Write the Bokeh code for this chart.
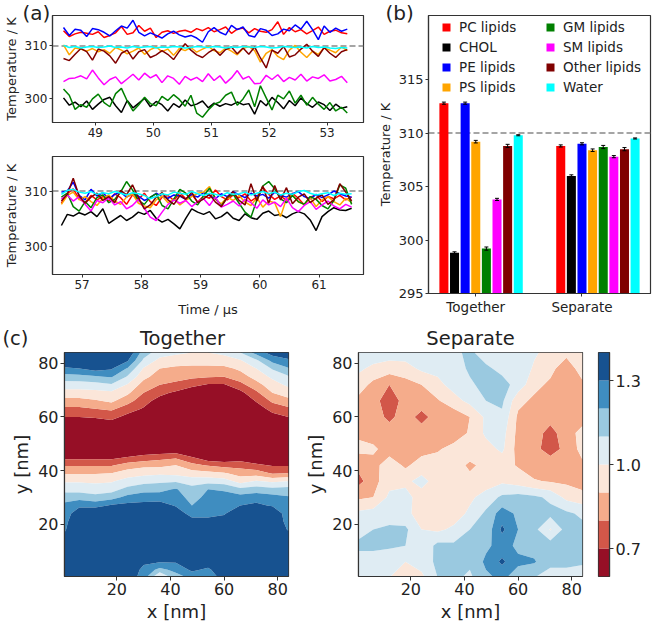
import numpy as np
from bokeh.plotting import figure
from bokeh.layouts import column, row
from bokeh.models import (Range1d, Span, Legend, LegendItem, FixedTicker,
                          Whisker, ColumnDataSource, TeeHead, PrintfTickFormatter)
from bokeh.embed import file_html
from bokeh.resources import INLINE

FONT = "DejaVu Sans"

# ---------------- data ----------------
series_names = ["PC lipids", "CHOL", "PE lipids", "PS lipids",
                "GM lipids", "SM lipids", "Other lipids", "Water"]
series_colors = ["#ff0000", "#000000", "#0000ff", "#ffa500",
                 "#008000", "#ff00ff", "#800000", "#00ffff"]

time_top = [48.45, 48.55, 48.65, 48.75, 48.85, 48.95, 49.05, 49.15, 49.25, 49.35,
            49.45, 49.55, 49.65, 49.75, 49.85, 49.95, 50.05, 50.15, 50.25, 50.35,
            50.45, 50.55, 50.65, 50.75, 50.85, 50.95, 51.05, 51.15, 51.25, 51.35,
            51.45, 51.55, 51.65, 51.75, 51.85, 51.95, 52.05, 52.15, 52.25, 52.35,
            52.45, 52.55, 52.65, 52.75, 52.85, 52.95, 53.05, 53.15, 53.25, 53.35]
time_bottom = [56.65, 56.75, 56.85, 56.95, 57.05, 57.15, 57.25, 57.35, 57.45, 57.55,
               57.65, 57.75, 57.85, 57.95, 58.05, 58.15, 58.25, 58.35, 58.45, 58.55,
               58.65, 58.75, 58.85, 58.95, 59.05, 59.15, 59.25, 59.35, 59.45, 59.55,
               59.65, 59.75, 59.85, 59.95, 60.05, 60.15, 60.25, 60.35, 60.45, 60.55,
               60.65, 60.75, 60.85, 60.95, 61.05, 61.15, 61.25, 61.35, 61.45, 61.55]

pc_top = [312.9, 311.8, 312.3, 312.6, 312.4, 312.2, 312.7, 311.6, 312.0, 312.5,
          313.7, 312.2, 312.5, 313.9, 312.8, 313.4, 311.6, 312.6, 312.9, 312.4,
          312.8, 313.0, 312.6, 313.3, 312.9, 313.5, 312.7, 313.1, 313.6, 312.4,
          313.2, 313.4, 312.5, 313.3, 312.8, 312.6, 313.1, 314.6, 312.2, 313.5,
          312.7, 313.1, 312.3, 312.9, 313.6, 312.2, 312.8, 313.0, 312.5, 312.3]
chol_top = [300.1, 298.7, 299.3, 298.4, 299.5, 297.9, 298.9, 299.8, 300.2, 298.6,
            297.3, 299.6, 298.2, 299.1, 300.0, 298.4, 299.4, 298.8, 297.6, 299.0,
            298.3, 299.7, 298.6, 298.9, 299.5, 298.2, 299.1, 298.5, 299.0, 298.7,
            299.3, 298.8, 299.0, 297.0, 299.6, 298.6, 300.2, 299.2, 298.0, 299.6,
            298.6, 300.1, 299.0, 298.3, 299.3, 298.8, 297.7, 298.9, 298.1, 298.4]
pe_top = [313.5, 312.0, 313.2, 313.0, 311.8, 313.3, 313.1, 312.6, 311.9, 312.9,
          313.8, 313.4, 314.9, 312.6, 311.9, 312.5, 312.0, 311.5, 312.3, 312.8,
          312.1, 311.7, 312.0, 311.5, 310.7, 312.7, 313.5, 312.6, 312.1, 313.9,
          313.1, 313.6, 312.0, 311.7, 313.3, 313.0, 312.0, 312.3, 313.2, 312.9,
          314.0, 313.2, 314.7, 313.1, 311.2, 313.8, 312.6, 313.4, 312.8, 313.2]
ps_top = [310.2, 308.3, 309.6, 309.4, 309.0, 309.5, 308.9, 309.3, 308.6, 309.7,
          309.2, 308.5, 309.0, 309.6, 308.4, 309.3, 309.8, 308.9, 309.4, 308.2,
          309.5, 309.1, 309.7, 308.8, 309.4, 309.9, 309.1, 308.7, 309.6, 309.0,
          308.3, 309.5, 309.9, 309.1, 306.9, 308.6, 309.3, 308.0, 307.4, 309.2,
          310.1, 308.8, 307.8, 309.0, 308.4, 309.6, 309.2, 308.7, 309.8, 309.1]
gm_top = [301.8, 300.6, 297.9, 298.8, 298.3, 299.9, 300.8, 299.2, 298.4, 300.9,
          301.9, 299.5, 297.6, 298.8, 300.2, 299.0, 298.6, 300.4, 299.6, 300.7,
          299.8, 298.5, 300.6, 297.2, 296.4, 297.8, 298.9, 299.3, 300.6, 301.2,
          298.7, 299.9, 301.6, 298.4, 302.4, 300.1, 297.8, 300.6, 299.9, 301.4,
          299.1, 300.6, 298.7, 300.2, 298.9, 297.9, 299.2, 297.6, 298.3, 297.2]
sm_top = [303.2, 303.8, 303.9, 304.3, 303.7, 305.4, 303.9, 302.6, 303.6, 304.1,
          302.8, 303.7, 304.6, 303.5, 304.8, 303.9, 304.5, 303.0, 304.3, 303.8,
          302.7, 304.2, 303.5, 304.0, 303.2, 304.7, 303.4, 304.3, 302.9, 303.9,
          305.3, 303.7, 304.2, 302.8, 302.9, 304.4, 303.6, 304.5, 303.2, 304.0,
          303.5, 304.6, 303.3, 304.1, 303.8, 304.5, 303.3, 303.6, 304.2, 303.0]
other_top = [307.6, 307.2, 308.4, 309.5, 308.9, 307.3, 309.4, 309.0, 308.1, 306.7,
             308.6, 309.2, 307.5, 308.9, 309.3, 307.8, 308.3, 309.1, 308.4, 307.4,
             309.0, 310.4, 309.2, 308.3, 307.8, 308.7, 309.4, 308.2, 309.3, 309.8,
             308.5, 309.6, 308.4, 309.8, 307.7, 305.8, 309.2, 308.6, 309.9, 307.9,
             308.3, 309.4, 310.3, 309.0, 308.0, 309.7, 308.6, 307.8, 308.9, 309.3]
water_top = [310.1, 309.7, 309.9, 309.6, 309.8, 309.9, 309.7, 309.8, 310.0, 309.7,
             309.8, 309.6, 309.9, 309.7, 309.8, 309.9, 309.6, 309.8, 309.7, 309.9,
             309.8, 309.6, 309.7, 309.9, 309.8, 309.7, 309.9, 309.8, 309.6, 309.8,
             309.7, 309.9, 309.8, 309.7, 309.9, 309.8, 309.6, 309.7, 309.9, 309.8,
             309.7, 309.8, 309.6, 309.9, 309.7, 309.8, 309.6, 309.5, 309.7, 309.6]

pc_bottom = [307.8, 309.5, 310.4, 308.6, 307.9, 309.2, 308.4, 309.0, 308.2, 309.5,
             308.8, 307.6, 309.3, 308.5, 309.6, 308.1, 307.4, 308.9, 309.2, 308.3,
             309.7, 308.6, 309.4, 308.0, 309.1, 308.7, 310.2, 309.0, 308.4, 309.3,
             308.8, 309.5, 308.2, 308.9, 310.7, 309.4, 308.5, 309.1, 308.3, 309.6,
             308.7, 307.5, 308.9, 309.3, 308.1, 309.0, 308.6, 309.2, 308.4, 308.9]
chol_bottom = [303.8, 305.8, 305.5, 306.1, 305.7, 306.3, 305.4, 306.8, 304.2, 304.9,
               305.6, 304.7, 305.3, 306.2, 305.8, 306.5, 305.1, 304.4, 304.9, 304.1,
               303.2, 305.1, 306.8, 306.2, 305.8, 306.3, 305.0, 305.4, 306.2, 305.1,
               304.7, 305.9, 305.2, 304.9, 306.0, 306.4, 305.6, 305.8, 305.2, 305.9,
               306.3, 305.9, 304.8, 302.9, 305.4, 306.3, 307.0, 306.6, 306.5, 306.9]
pe_bottom = [309.8, 310.0, 311.6, 309.2, 308.4, 310.3, 309.1, 309.7, 308.6, 309.4,
             309.8, 308.9, 309.5, 309.1, 308.3, 308.8, 309.6, 309.0, 308.7, 309.3,
             309.1, 308.5, 309.4, 308.9, 309.7, 309.2, 308.6, 309.5, 309.0, 309.9,
             309.3, 308.8, 309.6, 309.1, 309.4, 308.7, 309.8, 309.2, 308.9, 309.5,
             309.9, 309.0, 308.6, 309.4, 308.8, 309.3, 310.0, 309.5, 309.1, 308.9]
ps_bottom = [307.6, 309.2, 309.8, 308.4, 309.0, 308.1, 307.4, 308.7, 309.3, 308.2,
             307.6, 308.9, 309.5, 307.8, 307.3, 307.0, 308.4, 309.1, 307.9, 308.6,
             307.5, 308.3, 309.0, 309.6, 309.8, 310.8, 308.5, 307.7, 308.9, 308.3,
             309.2, 308.0, 307.4, 308.8, 307.1, 308.2, 307.9, 305.4, 308.6, 309.3,
             308.0, 307.6, 308.8, 307.2, 308.4, 309.0, 308.1, 307.5, 308.7, 307.9]
gm_bottom = [308.9, 309.6, 307.2, 306.4, 308.1, 307.0, 308.8, 309.3, 307.9, 308.5,
             309.8, 311.7, 310.2, 308.3, 307.6, 308.9, 309.5, 307.4, 306.8, 308.6,
             310.3, 309.6, 308.2, 307.5, 309.1, 310.5, 308.7, 307.3, 308.9, 309.4,
             307.8, 306.2, 305.3, 308.4, 310.9, 311.7, 310.4, 308.6, 307.9, 309.2,
             308.1, 307.6, 309.0, 308.5, 307.4, 306.8, 308.3, 311.1, 310.5, 307.6]
sm_bottom = [308.6, 309.3, 308.2, 309.0, 307.6, 306.4, 308.3, 307.9, 308.8, 307.5,
             308.1, 306.8, 307.4, 308.5, 306.9, 305.3, 304.7, 306.2, 307.6, 308.4,
             307.8, 308.3, 307.2, 308.1, 308.6, 307.4, 308.9, 307.1, 307.6, 308.2,
             307.3, 308.5, 307.9, 306.9, 308.4, 307.5, 308.0, 307.2, 308.7, 307.0,
             306.3, 307.4, 308.1, 306.7, 307.5, 308.2, 307.3, 306.8, 307.6, 307.1]
other_bottom = [308.2, 309.4, 312.3, 309.1, 307.8, 308.9, 309.6, 308.3, 309.0, 307.9,
                310.1, 309.3, 311.1, 308.8, 306.8, 307.5, 308.9, 309.7, 308.4, 307.6,
                309.2, 308.5, 309.8, 307.9, 308.6, 309.4, 308.0, 307.2, 308.8, 309.9,
                308.3, 307.5, 311.3, 308.2, 310.9, 307.8, 311.0, 308.4, 310.6, 307.7,
                308.9, 309.5, 307.9, 308.7, 309.3, 307.6, 308.4, 311.3, 309.8, 308.2]
water_bottom = [309.4, 310.1, 310.3, 309.8, 309.6, 309.9, 309.4, 309.7, 309.5, 309.9,
                309.6, 309.3, 309.7, 309.5, 309.2, 308.6, 309.0, 309.5, 309.3, 309.8,
                309.6, 309.4, 309.9, 309.5, 309.2, 309.6, 309.4, 309.1, 309.7, 309.4,
                309.5, 309.8, 309.3, 309.6, 309.9, 309.5, 309.8, 309.3, 309.6, 309.4,
                309.9, 310.1, 309.6, 309.3, 309.5, 309.7, 309.2, 309.6, 309.4, 309.5]

series_top = [pc_top, chol_top, pe_top, ps_top, gm_top, sm_top, other_top, water_top]
series_bottom = [pc_bottom, chol_bottom, pe_bottom, ps_bottom, gm_bottom, sm_bottom,
                 other_bottom, water_bottom]

group_labels = ["Together", "Separate"]
bar_together = [312.8, 298.8, 312.8, 309.2, 299.2, 303.8, 308.8, 309.8]
err_together = [0.10, 0.10, 0.10, 0.12, 0.15, 0.10, 0.15, 0.05]
bar_separate = [308.8, 306.0, 309.0, 308.4, 308.7, 307.8, 308.5, 309.5]
err_separate = [0.10, 0.10, 0.10, 0.12, 0.15, 0.10, 0.15, 0.05]

ref_temp = 310.0

# map grids (nm)
map_x = [0, 6, 12, 18, 24, 30, 36, 42, 48, 54, 60, 66, 72, 78, 84]
together_y = [0, 3, 6, 9, 12, 15, 18, 21, 24, 27, 30, 33, 36, 39, 42, 45, 48, 51, 54,
              57, 60, 63, 66, 69, 72, 75, 78, 81, 84]
# each column: values at x = map_x[i], from y = 84 down to y = 0 (step 3)
together_cols = [
    [1.39, 1.39, 1.28, 1.16, 1.05, 0.96, 0.87, 0.78, 0.70, 0.62, 0.61, 0.61, 0.61, 0.67, 0.79, 0.89, 0.99, 1.06, 1.16, 1.22, 1.24, 1.26, 1.28, 1.31, 1.35, 1.39, 1.39, 1.39, 1.39],
    [1.39, 1.39, 1.30, 1.17, 1.05, 0.96, 0.87, 0.78, 0.70, 0.62, 0.61, 0.61, 0.61, 0.67, 0.79, 0.89, 0.99, 1.06, 1.16, 1.28, 1.36, 1.39, 1.39, 1.39, 1.39, 1.39, 1.39, 1.39, 1.39],
    [1.39, 1.39, 1.34, 1.19, 1.06, 0.97, 0.89, 0.80, 0.71, 0.63, 0.61, 0.61, 0.61, 0.67, 0.79, 0.89, 0.98, 1.05, 1.13, 1.27, 1.38, 1.39, 1.39, 1.39, 1.39, 1.39, 1.39, 1.39, 1.39],
    [1.39, 1.39, 1.31, 1.21, 1.09, 0.98, 0.92, 0.82, 0.73, 0.65, 0.61, 0.61, 0.61, 0.67, 0.79, 0.90, 0.99, 1.06, 1.16, 1.31, 1.39, 1.39, 1.39, 1.39, 1.39, 1.39, 1.39, 1.39, 1.39],
    [1.39, 1.31, 1.19, 1.09, 0.99, 0.92, 0.84, 0.75, 0.67, 0.62, 0.61, 0.61, 0.61, 0.70, 0.84, 0.95, 1.04, 1.13, 1.23, 1.33, 1.39, 1.39, 1.39, 1.39, 1.39, 1.39, 1.39, 1.39, 1.38],
    [1.15, 1.08, 0.99, 0.93, 0.86, 0.80, 0.74, 0.69, 0.64, 0.61, 0.61, 0.61, 0.61, 0.73, 0.87, 0.97, 1.07, 1.16, 1.26, 1.33, 1.39, 1.39, 1.39, 1.39, 1.39, 1.39, 1.32, 1.27, 1.24],
    [1.05, 0.97, 0.90, 0.85, 0.80, 0.73, 0.66, 0.62, 0.61, 0.61, 0.61, 0.61, 0.61, 0.76, 0.87, 0.98, 1.08, 1.17, 1.25, 1.35, 1.39, 1.39, 1.39, 1.39, 1.39, 1.39, 1.31, 1.17, 0.95],
    [1.02, 0.95, 0.88, 0.83, 0.78, 0.68, 0.61, 0.61, 0.61, 0.61, 0.61, 0.61, 0.61, 0.78, 0.90, 0.97, 1.09, 1.21, 1.25, 1.29, 1.36, 1.39, 1.39, 1.39, 1.39, 1.39, 1.31, 1.23, 1.15],
    [1.00, 0.95, 0.87, 0.82, 0.73, 0.63, 0.61, 0.61, 0.61, 0.61, 0.61, 0.61, 0.61, 0.70, 0.83, 0.94, 1.06, 1.13, 1.16, 1.20, 1.26, 1.34, 1.39, 1.39, 1.39, 1.39, 1.39, 1.32, 1.22],
    [1.00, 0.95, 0.87, 0.81, 0.69, 0.61, 0.61, 0.61, 0.61, 0.61, 0.61, 0.61, 0.61, 0.62, 0.79, 0.93, 1.06, 1.20, 1.23, 1.25, 1.28, 1.32, 1.39, 1.39, 1.39, 1.39, 1.36, 1.28, 1.25],
    [1.02, 0.96, 0.87, 0.80, 0.69, 0.61, 0.61, 0.61, 0.61, 0.61, 0.61, 0.61, 0.61, 0.61, 0.76, 0.91, 1.05, 1.19, 1.23, 1.25, 1.29, 1.34, 1.39, 1.39, 1.39, 1.39, 1.39, 1.38, 1.33],
    [1.10, 0.99, 0.92, 0.85, 0.77, 0.67, 0.61, 0.61, 0.61, 0.61, 0.61, 0.61, 0.61, 0.64, 0.76, 0.86, 0.96, 1.13, 1.24, 1.30, 1.38, 1.39, 1.39, 1.39, 1.39, 1.39, 1.39, 1.39, 1.39],
    [1.24, 1.08, 1.00, 0.94, 0.86, 0.78, 0.71, 0.64, 0.61, 0.61, 0.61, 0.61, 0.61, 0.61, 0.72, 0.85, 1.01, 1.15, 1.26, 1.32, 1.39, 1.39, 1.39, 1.39, 1.39, 1.39, 1.39, 1.39, 1.39],
    [1.35, 1.23, 1.11, 1.02, 0.96, 0.90, 0.82, 0.74, 0.66, 0.61, 0.61, 0.61, 0.61, 0.61, 0.69, 0.79, 0.98, 1.13, 1.24, 1.29, 1.39, 1.39, 1.39, 1.39, 1.39, 1.39, 1.39, 1.39, 1.39],
    [1.39, 1.28, 1.19, 1.09, 1.02, 0.95, 0.87, 0.78, 0.70, 0.62, 0.61, 0.61, 0.61, 0.61, 0.69, 0.80, 1.00, 1.14, 1.21, 1.22, 1.24, 1.26, 1.29, 1.35, 1.39, 1.39, 1.39, 1.39, 1.39],
]
separate_y = [0, 6, 12, 18, 24, 30, 36, 42, 48, 54, 60, 66, 72, 78, 84]
# each row: values at y (from 84 down to 0), along map_x
separate_rows = [
    [1.05, 1.05, 1.05, 1.05, 1.05, 1.10, 1.08, 1.12, 1.05, 1.06, 1.10, 1.02, 0.95, 0.93, 0.96],
    [1.02, 0.98, 0.95, 0.96, 1.02, 1.03, 1.04, 1.12, 1.12, 1.07, 1.10, 0.98, 0.93, 0.84, 0.95],
    [0.96, 0.87, 0.80, 0.86, 0.90, 0.97, 1.04, 1.08, 1.14, 1.14, 1.06, 0.93, 0.88, 0.86, 0.88],
    [0.88, 0.84, 0.74, 0.84, 0.85, 0.89, 0.96, 1.03, 1.10, 1.12, 0.93, 0.88, 0.85, 0.85, 0.87],
    [0.86, 0.84, 0.78, 0.84, 0.77, 0.84, 0.84, 0.90, 1.02, 1.08, 0.88, 0.85, 0.84, 0.84, 0.86],
    [0.88, 0.85, 0.84, 0.83, 0.84, 0.84, 0.85, 0.91, 1.02, 1.04, 0.87, 0.85, 0.76, 0.86, 0.93],
    [0.93, 0.92, 0.85, 0.84, 0.86, 0.89, 0.93, 0.97, 0.96, 1.02, 0.86, 0.82, 0.77, 0.82, 0.94],
    [0.82, 0.86, 0.96, 0.88, 0.95, 0.94, 0.95, 0.88, 0.93, 0.94, 0.89, 0.84, 0.84, 0.83, 0.88],
    [0.76, 0.86, 0.97, 0.98, 1.03, 0.96, 0.93, 0.93, 0.95, 0.98, 0.95, 0.91, 0.89, 0.88, 0.85],
    [0.88, 0.90, 1.02, 1.03, 0.96, 0.94, 0.95, 0.98, 1.04, 1.12, 1.14, 1.12, 1.08, 0.97, 0.94],
    [1.02, 1.04, 1.05, 1.03, 0.95, 0.91, 0.95, 1.02, 1.12, 1.25, 1.18, 1.14, 1.13, 1.12, 1.08],
    [1.06, 1.10, 1.12, 1.12, 1.00, 0.98, 1.02, 1.10, 1.13, 1.32, 1.20, 1.13, 0.99, 1.14, 1.13],
    [1.12, 1.13, 1.12, 1.10, 1.02, 1.13, 1.12, 1.12, 1.18, 1.24, 1.18, 1.16, 1.15, 1.12, 1.12],
    [1.06, 1.04, 1.02, 1.00, 1.05, 1.12, 1.14, 1.12, 1.22, 1.32, 1.22, 1.21, 1.13, 1.13, 1.12],
    [1.04, 1.03, 1.00, 0.98, 0.97, 1.10, 1.12, 1.08, 1.18, 1.22, 1.15, 1.10, 1.05, 1.05, 1.02],
]
map_levels = [0.6, 0.7, 0.8, 0.9, 1.0, 1.1, 1.2, 1.3, 1.4]
map_ticks = [20, 40, 60, 80]
cbar_ticks = [0.7, 1.0, 1.3]
rdbu8 = ["#960f26", "#d25749", "#f5ac8b", "#fbe6d9", "#dfecf3", "#9ac9e0", "#3f8dc0", "#175290"]

# ---------------- helpers ----------------
AX = "#333333"
TXT = "#222222"


def style(p, tick_fs, label_fs):
    p.grid.visible = False
    p.outline_line_color = AX
    p.outline_line_width = 1.2
    p.background_fill_color = "white"
    p.border_fill_color = "white"
    for ax in p.axis:
        ax.axis_line_color = AX
        ax.axis_line_width = 1.2
        ax.major_tick_line_color = AX
        ax.major_tick_in = 0
        ax.major_tick_out = 3
        ax.minor_tick_line_color = None
        ax.major_label_text_font = FONT
        ax.major_label_text_font_size = tick_fs
        ax.major_label_text_color = TXT
        ax.axis_label_text_font = FONT
        ax.axis_label_text_font_size = label_fs
        ax.axis_label_text_font_style = "normal"
        ax.axis_label_text_color = TXT
        ax.major_label_standoff = 2
        ax.axis_label_standoff = 3


def panel_title(p, text, offset, size="20px", standoff=-18, align="left"):
    p.title.text = text
    p.title.align = align
    p.title.offset = offset
    p.title.standoff = standoff
    p.title.text_font = FONT
    p.title.text_font_size = size
    p.title.text_font_style = "normal"
    p.title.text_color = TXT


# ---------------- panel (a) ----------------
def time_panel(times, series, xr, yr, xticks, fh, top_border, bottom_border, xlabel):
    p = figure(frame_width=311, frame_height=fh,
               x_range=Range1d(*xr), y_range=Range1d(*yr),
               output_backend="svg", toolbar_location=None,
               min_border_left=46, min_border_right=7,
               min_border_top=top_border, min_border_bottom=bottom_border)
    p.add_layout(Span(location=ref_temp, dimension="width", line_color="#888888",
                      line_dash="6 3", line_width=1.5, level="underlay"))
    for vals, col in zip(series, series_colors):
        p.line(times, vals, line_color=col, line_width=1.5)
    p.xaxis.ticker = FixedTicker(ticks=xticks)
    p.yaxis.ticker = FixedTicker(ticks=[300, 310])
    p.yaxis.axis_label = "Temperature / K"
    style(p, "12px", "13px")
    if xlabel:
        p.xaxis.axis_label = xlabel
        p.xaxis.axis_label_standoff = 10
    return p


pa1 = time_panel(time_top, series_top, (48.26, 53.63), (295.4, 315.8),
                 [49, 50, 51, 52, 53], 107, 15, 22, None)
pa2 = time_panel(time_bottom, series_bottom, (56.5, 61.75), (295.0, 316.2),
                 [57, 58, 59, 60, 61], 118, 12, 46, "Time / µs")
panel_title(pa1, "(a)", -30)

# ---------------- panel (b) ----------------
pb = figure(frame_width=222, frame_height=278,
            x_range=Range1d(-1.45, 19.45), y_range=Range1d(295, 321),
            output_backend="svg", toolbar_location=None,
            min_border_left=58, min_border_right=4, min_border_top=15, min_border_bottom=28)
pb.add_layout(Span(location=ref_temp, dimension="width", line_color="#888888",
                   line_dash="6 3", line_width=1.5, level="underlay"))
group_start = [0, 11]
bar_renderers = []
for i, col in enumerate(series_colors):
    xs = [group_start[0] + i, group_start[1] + i]
    tops = [bar_together[i], bar_separate[i]]
    errs = [err_together[i], err_separate[i]]
    r = pb.vbar(x=xs, top=tops, bottom=295, width=0.85, fill_color=col, line_color=None)
    bar_renderers.append(r)
    src = ColumnDataSource(dict(x=xs, upper=[t + e for t, e in zip(tops, errs)],
                                lower=[t - e for t, e in zip(tops, errs)]))
    pb.add_layout(Whisker(base="x", upper="upper", lower="lower", source=src,
                          line_color="black", line_width=1, level="annotation",
                          upper_head=TeeHead(size=4, line_color="black", line_width=1),
                          lower_head=TeeHead(size=4, line_color="black", line_width=1)))
pb.xaxis.ticker = FixedTicker(ticks=[3, 13])
pb.xaxis.major_label_overrides = {3: group_labels[0], 13: group_labels[1]}
pb.yaxis.ticker = FixedTicker(ticks=[295, 300, 305, 310, 315])
pb.yaxis.axis_label = "Temperature / K"
style(pb, "13px", "13px")
pb.xaxis.major_label_text_font_size = "13.5px"


def make_legend(names, rends, vx):
    leg = Legend(items=[LegendItem(label=n, renderers=[r]) for n, r in zip(names, rends)],
                 location=(vx, 278 - 4 - 76), border_line_color=None,
                 background_fill_alpha=0, glyph_width=10, glyph_height=10,
                 label_text_font=FONT, label_text_font_size="13.5px",
                 label_text_color=TXT, label_height=16, spacing=4,
                 padding=0, margin=0, label_standoff=8)
    pb.add_layout(leg)


make_legend(series_names[:4], bar_renderers[:4], 13)
make_legend(series_names[4:], bar_renderers[4:], 117)
panel_title(pb, "(b)", -43)

# ---------------- panel (c) ----------------
tog_z = np.array(together_cols).T[::-1]
sep_z = np.array(separate_rows)[::-1]


def map_panel(xs, ys, z, left, right):
    p = figure(frame_width=224, frame_height=224,
               x_range=Range1d(0.5, 84), y_range=Range1d(0.5, 84),
               output_backend="svg", toolbar_location=None,
               min_border_left=left, min_border_right=right, min_border_top=8,
               min_border_bottom=10)
    p.contour(xs, ys, z, map_levels, fill_color=rdbu8, line_color=None)
    p.xaxis.ticker = FixedTicker(ticks=map_ticks)
    p.yaxis.ticker = FixedTicker(ticks=map_ticks)
    p.xaxis.axis_label = "x [nm]"
    p.yaxis.axis_label = "y [nm]"
    style(p, "16px", "18px")
    for ax in p.axis:
        ax.major_tick_out = 4
    return p


pc1 = map_panel(map_x, together_y, tog_z, 64, 8)
pc2 = map_panel(map_x, separate_y, sep_z, 62, 2)
panel_title(pc1, "(c)" + "\u00a0" * 18 + "Together", -62, size="19.5px", standoff=6)
panel_title(pc2, "Separate", 0, size="19.5px", standoff=6, align="center")

# colour bar drawn from the contour levels
pcb = figure(frame_width=11, frame_height=224, x_range=Range1d(0, 1),
             y_range=Range1d(map_levels[0], map_levels[-1]),
             x_axis_location=None, y_axis_location="right",
             output_backend="svg", toolbar_location=None,
             min_border_left=14, min_border_right=2, min_border_top=8, min_border_bottom=10)
pcb.quad(left=0, right=1, bottom=map_levels[:-1], top=map_levels[1:],
         fill_color=rdbu8, line_color=None)
pcb.yaxis.ticker = FixedTicker(ticks=cbar_ticks)
pcb.yaxis.formatter = PrintfTickFormatter(format="%.1f")
style(pcb, "16px", "16px")
pcb.yaxis.major_tick_out = 4
panel_title(pcb, " ", 0, size="19.5px", standoff=6)

layout = column(row(column(pa1, pa2), pb), row(pc1, pc2, pcb))

with open("out.html", "w") as f:
    f.write(file_html(layout, INLINE))
